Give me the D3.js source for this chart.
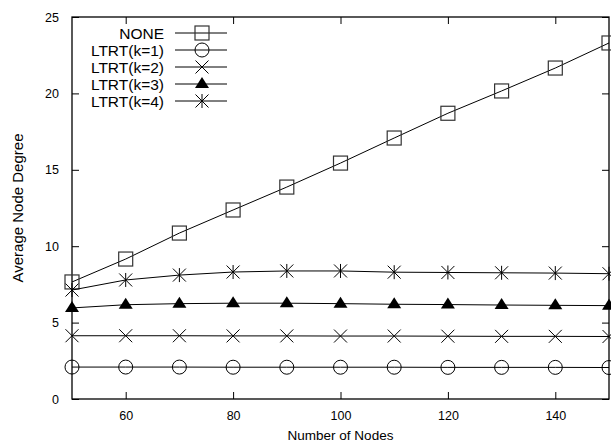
<!DOCTYPE html>
<html>
<head>
<meta charset="utf-8">
<script src="https://cdn.jsdelivr.net/npm/d3@7"></script>
<style>
  body { margin: 0; background: #fff; }
  svg text { font-family: "Liberation Sans", Arial, sans-serif; fill: #000; }
</style>
</head>
<body>
<svg id="chart" width="611" height="445"></svg>
<script>
// data
var nodes  = [50, 60, 70, 80, 90, 100, 110, 120, 130, 140, 150];
var none   = [7.66, 9.16, 10.86, 12.37, 13.87, 15.44, 17.08, 18.7, 20.16, 21.66, 23.3];
var ltrt1  = [2.09, 2.09, 2.09, 2.08, 2.08, 2.08, 2.08, 2.07, 2.07, 2.07, 2.06];
var ltrt2  = [4.14, 4.14, 4.14, 4.13, 4.13, 4.12, 4.12, 4.11, 4.1, 4.1, 4.09];
var ltrt3  = [5.96, 6.17, 6.24, 6.27, 6.27, 6.24, 6.2, 6.18, 6.15, 6.13, 6.11];
var ltrt4  = [7.13, 7.79, 8.11, 8.31, 8.38, 8.38, 8.3, 8.28, 8.26, 8.24, 8.2];
var labels = ["NONE", "LTRT(k=1)", "LTRT(k=2)", "LTRT(k=3)", "LTRT(k=4)"];
var shapes = ["square", "circle", "cross", "triangle", "star"];
var xTicks = [60, 80, 100, 120, 140];
var yTicks = [0, 5, 10, 15, 20, 25];

var series = [none, ltrt1, ltrt2, ltrt3, ltrt4].map(function(v, i) {
    return { name: labels[i], shape: shapes[i], values: v };
});

var svg = d3.select("#chart");
var m = { left: 72, right: 609, top: 17, bottom: 399 };

var x = d3.scaleLinear().domain([50, 150]).range([m.left, m.right]);
var y = d3.scaleLinear().domain([0, 25]).range([m.bottom, m.top]);

// draw a marker at (cx, cy)
function marker(g, shape, cx, cy) {
    if (shape == "square") {
        g.append("rect").attr("x", cx - 7).attr("y", cy - 7)
            .attr("width", 14).attr("height", 14)
            .attr("fill", "none").attr("stroke", "#333").attr("stroke-width", 1.2);
    } else if (shape == "circle") {
        g.append("circle").attr("cx", cx).attr("cy", cy).attr("r", 7)
            .attr("fill", "none").attr("stroke", "#000").attr("stroke-width", 1);
    } else if (shape == "cross") {
        g.append("path")
            .attr("d", "M" + (cx - 6.5) + "," + (cy - 6.5) + "L" + (cx + 6.5) + "," + (cy + 6.5) +
                       "M" + (cx - 6.5) + "," + (cy + 6.5) + "L" + (cx + 6.5) + "," + (cy - 6.5))
            .attr("stroke", "#000").attr("stroke-width", 1);
    } else if (shape == "triangle") {
        g.append("path")
            .attr("d", "M" + cx + "," + (cy - 7) + "L" + (cx + 7) + "," + (cy + 4) + "L" + (cx - 7) + "," + (cy + 4) + "Z")
            .attr("fill", "#000");
    } else if (shape == "star") {
        g.append("path")
            .attr("d", "M" + (cx - 6.5) + "," + (cy - 6.5) + "L" + (cx + 6.5) + "," + (cy + 6.5) +
                       "M" + (cx - 6.5) + "," + (cy + 6.5) + "L" + (cx + 6.5) + "," + (cy - 6.5) +
                       "M" + cx + "," + (cy - 7) + "L" + cx + "," + (cy + 7))
            .attr("stroke", "#000").attr("stroke-width", 1);
    }
}

// frame
svg.append("rect")
    .attr("x", m.left).attr("y", m.top)
    .attr("width", m.right - m.left).attr("height", m.bottom - m.top)
    .attr("fill", "none").attr("stroke", "#000").attr("stroke-width", 1.3);

// axes with inward ticks
var ax = svg.append("g").attr("class", "axes");
ax.append("g").attr("transform", "translate(0," + m.bottom + ")")
    .call(d3.axisBottom(x).tickValues(xTicks).tickSize(-7).tickPadding(12));
ax.append("g").attr("transform", "translate(0," + m.top + ")")
    .call(d3.axisTop(x).tickValues(xTicks).tickSize(-7).tickFormat(""));
ax.append("g").attr("transform", "translate(" + m.left + ",0)")
    .call(d3.axisLeft(y).tickValues(yTicks).tickSize(-7).tickPadding(13));
ax.append("g").attr("transform", "translate(" + m.right + ",0)")
    .call(d3.axisRight(y).tickValues(yTicks).tickSize(-7).tickFormat(""));
ax.selectAll(".domain").remove();
ax.selectAll(".tick line").attr("stroke", "#000");
ax.selectAll(".tick text").style("font-size", "12.5px").style("font-family", "Liberation Sans, Arial, sans-serif");

// axis titles
svg.append("text")
    .attr("x", (m.left + m.right) / 2).attr("y", 440)
    .attr("text-anchor", "middle").style("font-size", "13.5px")
    .text("Number of Nodes");
svg.append("text")
    .attr("transform", "translate(23," + ((m.top + m.bottom) / 2) + ") rotate(-90)")
    .attr("text-anchor", "middle").style("font-size", "15px")
    .text("Average Node Degree");

// lines + markers
var line = d3.line()
    .x(function(d, i) { return x(nodes[i]); })
    .y(function(d) { return y(d); });

var plot = svg.append("g");
series.forEach(function(s) {
    plot.append("path")
        .attr("d", line(s.values))
        .attr("fill", "none").attr("stroke", "#000").attr("stroke-width", 1);
    var mg = plot.append("g");
    s.values.forEach(function(v, i) { marker(mg, s.shape, x(nodes[i]), y(v)); });
});

// legend
var legend = svg.append("g");
series.forEach(function(s, i) {
    var ly = 33 + i * 17;
    legend.append("text")
        .attr("x", 164).attr("y", ly).attr("dy", "0.36em")
        .attr("text-anchor", "end").style("font-size", "15.5px")
        .text(s.name);
    legend.append("line")
        .attr("x1", 175).attr("x2", 227).attr("y1", ly).attr("y2", ly)
        .attr("stroke", "#000").attr("stroke-width", 1);
    marker(legend, s.shape, 202, ly);
});
</script>
</body>
</html>
